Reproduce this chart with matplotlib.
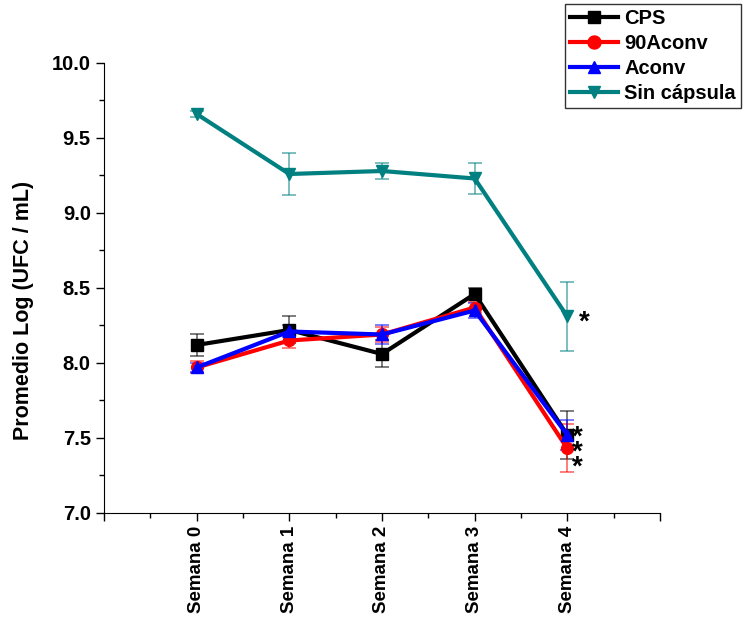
import numpy as np
import matplotlib
matplotlib.use("Agg")
import matplotlib.pyplot as plt
from matplotlib.ticker import MultipleLocator

plt.rcParams['font.family'] = ['Liberation Sans', 'DejaVu Sans']
plt.rcParams['font.weight'] = 'bold'

# Weekly means and error bars for each group
weeks = [0, 1, 2, 3, 4]
week_labels = ["Semana 0", "Semana 1", "Semana 2", "Semana 3", "Semana 4"]

cps_mean = [8.12, 8.22, 8.06, 8.46, 7.52]
cps_err = [0.07, 0.09, 0.09, 0.04, 0.16]

aconv90_mean = [7.97, 8.15, 8.19, 8.37, 7.43]
aconv90_err = [0.04, 0.05, 0.05, 0.04, 0.16]

aconv_mean = [7.97, 8.21, 8.19, 8.35, 7.52]
aconv_err = [0.03, 0.04, 0.06, 0.05, 0.10]

sin_mean = [9.66, 9.26, 9.28, 9.23, 8.31]
sin_err = [0.02, 0.14, 0.05, 0.105, 0.23]

series = [
    ("CPS", cps_mean, cps_err, "black", "s"),
    ("90Aconv", aconv90_mean, aconv90_err, "red", "o"),
    ("Aconv", aconv_mean, aconv_err, "blue", "^"),
    ("Sin cápsula", sin_mean, sin_err, "#008080", "v"),
]

fig = plt.figure(figsize=(7.44, 6.19), dpi=100)
ax = fig.add_axes([104 / 744, 1 - 513 / 619, 556 / 744, 450 / 619])

handles = []
for name, mean, err, color, marker in series:
    ax.errorbar(weeks, mean, yerr=err, fmt="none", ecolor=color, alpha=0.6,
                elinewidth=1.2, capsize=5, capthick=1.2, zorder=2)
    h, = ax.plot(weeks, mean, color=color, marker=marker, markersize=8.5,
                 linewidth=3, label=name, zorder=3)
    handles.append(h)

# significance marks at week 4
ax.text(4.12, 8.27, "*", fontsize=20, fontweight="bold", va="center",
        ha="left")
ax.text(4.05, 7.40, "*\n*\n*", fontsize=20, fontweight="bold", va="center",
        ha="left", linespacing=0.45)

ax.set_xlim(-1, 5)
ax.set_ylim(7.0, 10.0)
ax.set_xticks(range(-1, 6))
ax.set_xticklabels([""] + week_labels + [""], rotation=90, fontsize=13.5,
                   fontweight="bold")
ax.xaxis.set_minor_locator(MultipleLocator(0.5))
ax.yaxis.set_major_locator(MultipleLocator(0.5))
ax.yaxis.set_minor_locator(MultipleLocator(0.25))
ax.set_yticklabels([f"{v:.1f}" for v in ax.get_yticks()], fontsize=14.5,
                   fontweight="bold")
ax.tick_params(which="major", direction="out", length=6, width=1)
ax.tick_params(which="minor", direction="out", length=3.5, width=1)
ax.spines["top"].set_visible(False)
ax.spines["right"].set_visible(False)
ax.set_ylabel("Promedio Log (UFC / mL)", fontsize=15.5, fontweight="bold")
ax.yaxis.set_label_coords(-0.125, 0.45)

leg = fig.legend(handles=handles, loc="upper right",
                 bbox_to_anchor=(741 / 744, 1 - 4 / 619),
                 prop={"weight": "bold", "size": 14.5}, frameon=True,
                 fancybox=False, edgecolor="black", handlelength=2.4,
                 borderpad=0.25, labelspacing=0.3, handletextpad=0.3,
                 borderaxespad=0, markerscale=1.1)
leg.get_frame().set_linewidth(1)

fig.savefig("out.png", dpi=100)
